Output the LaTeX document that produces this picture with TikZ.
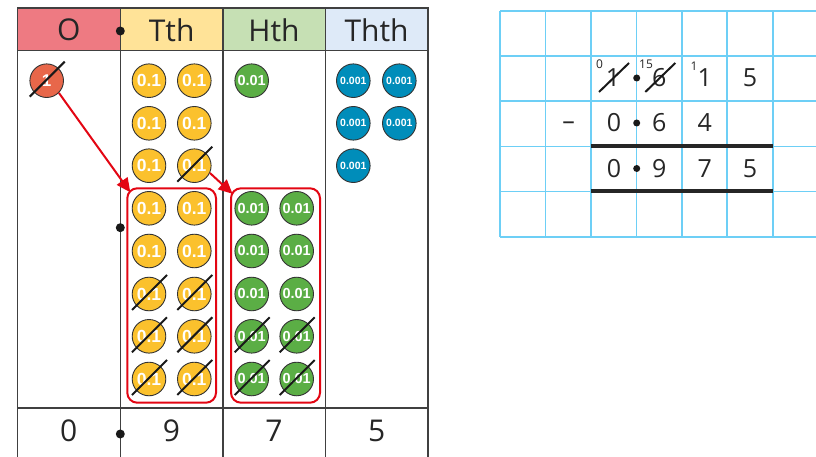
\documentclass[tikz,border=0pt]{standalone}
\usepackage{fontspec}
\setmainfont{Open Sans}
\setsansfont{Liberation Sans}
\usepackage{xcolor}
\usetikzlibrary{
    arrows.meta,
    calc,
}
\definecolor{onespink}{HTML}{EE7A82}
\definecolor{tthyellow}{HTML}{FFE398}
\definecolor{hthgreen}{HTML}{C6E0B4}
\definecolor{ththblue}{HTML}{DEEAF8}
\definecolor{oneorange}{HTML}{E8674A}
\definecolor{tenthyellow}{HTML}{FBC12D}
\definecolor{hundredthgreen}{HTML}{5BAE45}
\definecolor{thousandthblue}{HTML}{008DBA}
\definecolor{exred}{HTML}{E30613}
\definecolor{gridblue}{HTML}{6DCFF6}
\tikzset{
    % Counter styles
    counter/.style={circle, draw=black!80, line width=0.9pt, minimum size=33.6pt,
                    inner sep=0pt, text=white},
    one counter/.style={counter, fill=oneorange, font=\sffamily\bfseries\fontsize{17}{17}\selectfont},
    tenth counter/.style={counter, fill=tenthyellow, font=\sffamily\bfseries\fontsize{17.5}{17.5}\selectfont},
    hundredth counter/.style={counter, fill=hundredthgreen, font=\sffamily\bfseries\fontsize{14.5}{14.5}\selectfont},
    thousandth counter/.style={counter, fill=thousandthblue, font=\sffamily\bfseries\fontsize{10.5}{10.5}\selectfont},
    % Text styles
    head/.style={font=\fontsize{30}{30}\selectfont, text=black!85, inner sep=0pt},
    digit/.style={font=\fontsize{25}{25}\selectfont, text=black!85, inner sep=0pt},
    carry/.style={font=\fontsize{12}{12}\selectfont, text=black!85, inner sep=0pt},
    decimal point/.style={circle, fill=black!90, minimum size=9pt, inner sep=0pt},
    % Line styles
    table line/.style={line width=1.6pt, black!75},
    grid line/.style={line width=1.6pt, gridblue},
    answer line/.style={line width=4pt, black!85},
    strike/.style={line width=2pt, black!90},
    group box/.style={draw=exred, line width=2pt, rounded corners=10pt},
    exchange arrow/.style={-{Triangle[length=14pt,width=13pt]}, line width=2pt, exred},
}

\begin{document}
\begin{tikzpicture}[x=1pt, y=-1pt]
    \useasboundingbox (0,0) rectangle (816,457);

    % Headings
    \foreach \x/\c/\t/\n in {17.5/onespink/O/hO, 120.3/tthyellow/Tth/hT,
                             222.7/hthgreen/Hth/hH, 325.3/ththblue/Thth/hTh} {
        \fill[\c] (\x,8.3) rectangle ++(102.7,42.4);
        \node[head] (\n) at (\x+51.35, 30) {\t};
    }

    % Table lines
    \draw[table line] (17.5,457) -- (17.5,8.3) -- (428,8.3) -- (428,457);
    \draw[table line] (17.5,50.7) -- (428,50.7) (17.5,407.7) -- (428,407.7);
    \foreach \x in {120.3, 222.7, 325.3} {
        \draw[table line] (\x,8.3) -- (\x,457);
    }
    \node[decimal point] (dpHead) at (120.3,31) {};
    \node[decimal point] (dpBody) at (120.3,227.7) {};
    \node[decimal point] (dpFoot) at (120.3,434) {};

    % Ones
    \node[one counter] (one) at (46.7,80.7) {1};

    % Tenths
    \foreach \y/\r in {80.7/1, 123.3/2, 165.7/3, 208.3/4, 251/5, 294/6, 336.3/7, 379/8} {
        \node[tenth counter] (ta\r) at (149,\y) {0.1};
        \node[tenth counter] (tb\r) at (194.3,\y) {0.1};
    }

    % Hundredths
    \node[hundredth counter] (ha1) at (251.7,80.7) {0.01};
    \foreach \y/\r in {208.3/4, 251/5, 294/6, 336.3/7, 379/8} {
        \node[hundredth counter] (ha\r) at (251.7,\y) {0.01};
        \node[hundredth counter] (hb\r) at (296.7,\y) {0.01};
    }

    % Thousandths
    \foreach \y/\r in {80.7/1, 123.3/2} {
        \node[thousandth counter] (tha\r) at (353.3,\y) {0.001};
        \node[thousandth counter] (thb\r) at (399.3,\y) {0.001};
    }
    \node[thousandth counter] (tha3) at (353.3,165.7) {0.001};

    % Crossed out counters
    \foreach \n in {one, tb3, ta6, tb6, ta7, tb7, ta8, tb8, ha7, hb7, ha8, hb8} {
        \draw[strike] ($(\n)+(-17,16)$) -- ($(\n)+(18,-19)$);
    }

    % Exchanges
    \node[group box, minimum width=88.7pt, minimum height=214.4pt] (grpT) at (171.65,295.5) {};
    \node[group box, minimum width=89pt, minimum height=214.4pt] (grpH) at (275.5,295.5) {};
    \coordinate (tipT) at ($(grpT.north west)+(4,5)$);
    \coordinate (tipH) at ($(grpH.north west)+(2.5,6.5)$);
    \draw[exchange arrow] (one.-45) -- (tipT);
    \draw[exchange arrow] (tb3.-25) -- (tipH);

    % Answer row
    \foreach \x/\t/\n in {68.75/0/aO, 171.5/9/aT, 274/7/aH, 376.7/5/aTh} {
        \node[head] (\n) at (\x,431) {\t};
    }

    % Column subtraction grid
    \foreach \i in {0,...,6} {
        \draw[grid line] (500+\i*45.45,11) -- (500+\i*45.45,236.7);
    }
    \foreach \j in {0,...,5} {
        \draw[grid line] (500,11+\j*45.14) -- (816,11+\j*45.14);
    }
    \draw[answer line] (591.3,145.7) -- (772.7,145.7);
    \draw[answer line] (591.3,191.3) -- (772.7,191.3);

    % Top number
    \node[digit] (c1) at (613,78) {1};
    \node[digit] (c2) at (659.3,78) {6};
    \node[digit] (c3) at (704.7,78) {1};
    \node[digit] (c4) at (750,78) {5};
    \node[carry] (k1) at (599.5,64) {0};
    \node[carry] (k2) at (646,64) {15};
    \node[carry] (k3) at (694,66) {1};
    \foreach \n in {c1, c2} {
        \draw[strike] ($(\n)+(-14,14)$) -- ($(\n)+(16,-15)$);
    }

    % Number taken away
    \node[digit] (minus) at (568.5,126) {–};
    \node[digit] (s1) at (614,123) {0};
    \node[digit] (s2) at (659.3,123) {6};
    \node[digit] (s3) at (704.7,123) {4};

    % Answer
    \node[digit] (r1) at (614,168.5) {0};
    \node[digit] (r2) at (659.3,168.5) {9};
    \node[digit] (r3) at (704.7,168.5) {7};
    \node[digit] (r4) at (750,168.5) {5};

    % Decimal points
    \foreach \y/\n in {78/gp1, 123/gp2, 168.5/gp3} {
        \node[decimal point, minimum size=7pt] (\n) at (636.7,\y) {};
    }
\end{tikzpicture}
\end{document}
